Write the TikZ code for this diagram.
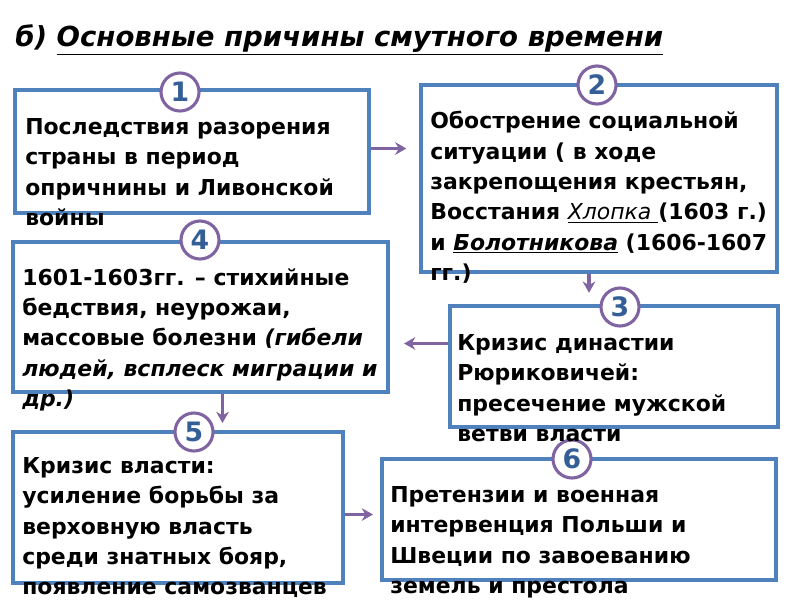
\documentclass[tikz,border=0pt]{standalone}
\usepackage{fontspec}
\setmainfont{DejaVu Sans}
\usetikzlibrary{fit,calc,arrows.meta}
\definecolor{boxblue}{RGB}{79,129,189}
\definecolor{numpurple}{RGB}{128,100,162}
\definecolor{numblue}{RGB}{52,94,150}
\tikzset{
  cause/.style={draw=boxblue, line width=2.8pt, inner sep=0pt},
  num/.style={circle, draw=numpurple, line width=2.2pt, fill=white, minimum size=0.95cm, inner sep=0pt, text=numblue, font=\fontsize{19}{19}\selectfont\bfseries},
  txt/.style={anchor=north west, inner sep=0pt, align=left, font=\fontsize{15.6}{21.6}\selectfont\bfseries},
  link/.style={-{Stealth[length=8pt,width=9pt]}, numpurple, line width=2.2pt}
}
\begin{document}
\begin{tikzpicture}[x=0.025cm, y=-0.025cm]
    \useasboundingbox[fill=white] (0,0) rectangle (800,600);
    \node[anchor=base west, inner sep=0pt, font=\fontsize{19.6}{23}\selectfont\bfseries\itshape] (title) at(15,46){б) \underline{Основные причины смутного времени}};

    % boxes
    \node[cause, fit={(15,90) (369,213)}] (b1) {};
    \node[cause, fit={(421,85) (777,272)}] (b2) {};
    \node[cause, fit={(450,306) (778,427)}] (b3) {};
    \node[cause, fit={(13,242) (388,392)}] (b4) {};
    \node[cause, fit={(13,432) (343,583)}] (b5) {};
    \node[cause, fit={(382,459) (776,580)}] (b6) {};

    % numbers
    \node[num] (c1) at(180,92){1};
    \node[num] (c2) at(597,85){2};
    \node[num] (c3) at(620,307){3};
    \node[num] (c4) at(200,240){4};
    \node[num] (c5) at(194,432){5};
    \node[num] (c6) at(572,459){6};

    % texts
    \node[txt] (t1) at(25,118){Последствия разорения\\страны в период\\опричнины и Ливонской\\войны};
    \node[txt] (t2) at(430,111){Обострение социальной\\ситуации ( в ходе\\закрепощения крестьян,\\Восстания {\mdseries\itshape\underline{Хлопка }}(1603 г.)\\и {\itshape\underline{Болотникова}} (1606-1607\\гг.)};
    \node[txt] (t3) at(457,334){Кризис династии\\Рюриковичей:\\пресечение мужской\\ветви власти};
    \node[txt] (t4) at(22,268){1601-1603гг. – стихийные\\бедствия, неурожаи,\\массовые болезни \textit{(гибели}\\\textit{людей, всплеск миграции и}\\\textit{др.)}};
    \node[txt] (t5) at(22,457){Кризис власти:\\усиление борьбы за\\верховную власть\\среди знатных бояр,\\появление самозванцев};
    \node[txt] (t6) at(390,486){Претензии и военная\\интервенция Польши и\\Швеции по завоеванию\\земель и престола};

    % arrows
    \draw[link, shorten >=9] ($(b1.east)+(0,-3)$) to ($(b1.east -| b2.west)+(0,-3)$);
    \draw[link, shorten >=8] ($(b2.south)+(-10,0)$) to ($(b2.south |- b3.north)+(-10,0)$);
    \draw[link, shorten >=10] ($(b3.west)+(0,-23)$) to ($(b3.west -| b4.east)+(0,-23)$);
    \draw[link, shorten >=5] ($(b4.south)+(22,0)$) to ($(b4.south |- b5.north)+(22,0)$);
    \draw[link, shorten >=5] ($(b5.east)+(0,7)$) to ($(b5.east -| b6.west)+(0,7)$);
\end{tikzpicture}
\end{document}
